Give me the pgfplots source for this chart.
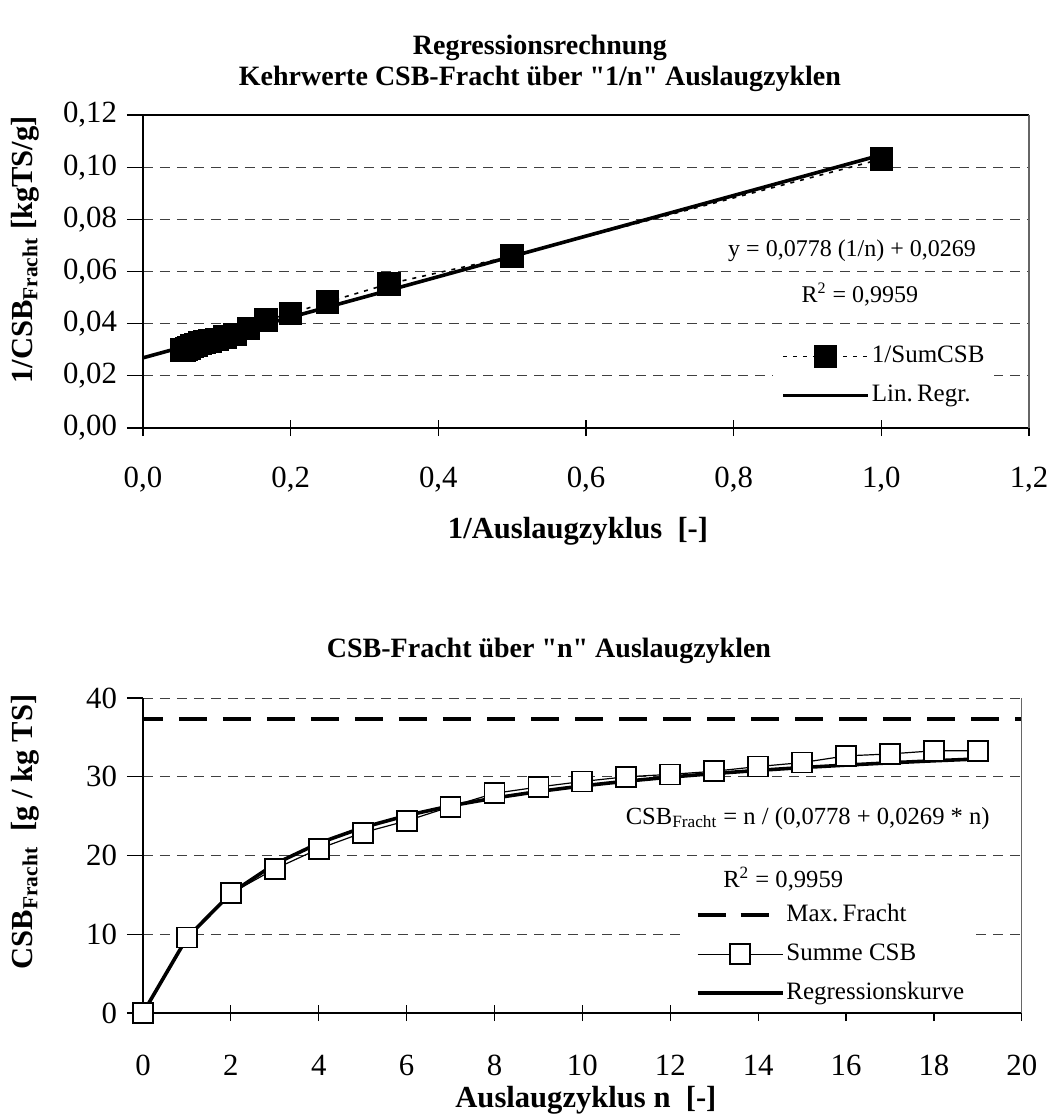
\documentclass[border=0pt]{standalone}
\usepackage{fontspec}
\setmainfont{Liberation Serif}[Ligatures=TeXOff]
\usepackage{pgfplots}
\pgfplotsset{compat=1.18}

% 1 px of the reference = 0.5pt
\pgfplotsset{
  csb/.style={
    scale only axis, clip=false,
    axis lines*=left, axis line style={black, line width=1pt, -},
    tick align=center, major tick length=8pt,
    major y tick style={xshift=-4pt},
    tick style={black, line width=0.6pt},
    ymajorgrids,
    major grid style={black!75, line width=0.5pt, dash pattern=on 5pt off 3.5pt},
    ticklabel style={font=\fontsize{15.4}{17}\selectfont,
      /pgf/number format/use comma, /pgf/number format/assume math mode=true,
      /pgf/number format/1000 sep={}},
    yticklabel style={xshift=-5.5pt},
    scaled ticks=false,
    label style={font=\bfseries\fontsize{15.3}{18}\selectfont},
    title style={font=\bfseries\fontsize{14}{15.5}\selectfont, align=center},
    legend cell align=left,
  },
  shortline/.style={legend image code/.code={\draw[##1] (0pt,0pt) -- (42.5pt,0pt);}},
  markline/.style={legend image code/.code={%
    \draw[mark repeat=2, mark phase=2, ##1] plot coordinates {(0pt,0pt) (21.25pt,0pt) (42.5pt,0pt)};}},
  dashline/.style={legend image code/.code={%
    \draw[black, line width=2.2pt, solid] (0pt,0pt) -- (14pt,0pt);
    \draw[black, line width=2.2pt, solid] (21.5pt,0pt) -- (35.5pt,0pt);
    \path[draw=none, fill=none] (0pt,0pt) -- (42.5pt,0pt);}},
}

\begin{document}
\begin{tikzpicture}
\path[use as bounding box] (-71.5pt,-343.5pt) rectangle (453.5pt,214pt);

% ---------- upper chart: reciprocal values ----------
\begin{axis}[csb,
  at={(0pt,0pt)}, anchor=south west,
  width=443pt, height=156.5pt,
  xmin=0, xmax=1.2, ymin=0, ymax=0.12,
  xtick={0,0.2,0.4,0.6,0.8,1.0,1.2},
  ytick={0,0.02,0.04,0.06,0.08,0.10,0.12},
  xticklabel style={yshift=-12pt, /pgf/number format/.cd, fixed, fixed zerofill, precision=1},
  yticklabel style={/pgf/number format/.cd, fixed, fixed zerofill, precision=2},
  title={Regressionsrechnung\\Kehrwerte CSB-Fracht über "1/n" Auslaugzyklen},
  title style={at={(0.448,1.127)}, anchor=center},
  xlabel={1/Auslaugzyklus\ \ [-]},
  xlabel style={at={(0.491,-0.329)}, anchor=center},
  ylabel={1/CSB\textsubscript{Fracht} [kgTS/g]},
  ylabel style={at={(-0.133,0.569)}, anchor=center},
  legend style={draw=none, fill=white, at={(0.711,0.291)}, anchor=north west,
    font=\fontsize{12.5}{14}\selectfont, inner xsep=4pt, inner ysep=3pt, row sep=6.5pt,
    nodes={inner sep=1pt, text height=8.5pt, text depth=2.5pt}},
  after end axis/.code={
    \draw[black, line width=0.7pt] (rel axis cs:0,1) -- (rel axis cs:1,1);
    \draw[black!60, line width=0.6pt] (rel axis cs:1,0) -- (rel axis cs:1,1);
  },
]
% linear regression
\addplot[black, line width=1.8pt, forget plot] coordinates {(0,0.0269) (1,0.1047)};
% 1/SumCSB
\addplot[black, line width=0.8pt, dash pattern=on 2pt off 3pt, mark=square*,
  mark size=5.5pt, mark options={solid, fill=black}, markline] coordinates {
  (1.0000,0.1031) (0.5000,0.0659) (0.3333,0.0553) (0.2500,0.0483)
  (0.2000,0.0439) (0.1667,0.0414) (0.1429,0.0382) (0.1250,0.0358)
  (0.1111,0.0348) (0.1000,0.0340) (0.0909,0.0333) (0.0833,0.0330)
  (0.0769,0.0326) (0.0714,0.0319) (0.0667,0.0314) (0.0625,0.0306)
  (0.0588,0.0304) (0.0556,0.0300) (0.0526,0.0300)};
\addlegendentry{1/SumCSB}
\addlegendimage{black, line width=1.8pt, shortline}
\addlegendentry{Lin.\,Regr.}
\node[anchor=base east, font=\fontsize{12}{14}\selectfont] at (axis cs:1.1377,0.0657)
  {y = 0,0778 (1/n) + 0,0269};
\node[anchor=base, font=\fontsize{12}{14}\selectfont] at (axis cs:0.971,0.0483)
  {R\textsuperscript{2} = 0,9959};
\end{axis}

% ---------- lower chart: cumulative load ----------
\begin{axis}[csb,
  at={(0pt,-292.5pt)}, anchor=south west,
  width=439.4pt, height=157.5pt,
  xmin=0, xmax=20, ymin=0, ymax=40,
  xtick={0,2,...,20}, ytick={0,10,20,30,40},
  xticklabel style={yshift=-13.5pt},
  title={CSB-Fracht über "n" Auslaugzyklen},
  title style={at={(0.462,1.111)}, anchor=center},
  xlabel={Auslaugzyklus n\ \ [-]},
  xlabel style={at={(0.504,-0.276)}, anchor=center},
  ylabel={CSB\textsubscript{Fracht}\ \ [g / kg TS]},
  ylabel style={at={(-0.134,0.575)}, anchor=center},
  legend style={draw=none, fill=white, at={(0.619,0.372)}, anchor=north west,
    font=\fontsize{12.5}{14}\selectfont, inner xsep=4pt, inner ysep=3pt, row sep=6.5pt,
    nodes={inner sep=1pt, text height=8.5pt, text depth=2.5pt}},
  after end axis/.code={
    \draw[black!60, line width=0.6pt] (rel axis cs:1,0) -- (rel axis cs:1,1);
  },
]
% max load
\addplot[black, line width=2.2pt, dash pattern=on 14pt off 8pt, dash phase=4pt,
  forget plot] coordinates {(0,37.3) (20,37.3)};
\addlegendimage{dashline}
\addlegendentry{Max.\,Fracht}
% regression curve n/(0.0778+0.0269 n)
\addplot[black, line width=1.8pt, forget plot] coordinates {
  (0,0) (1,9.55) (2,15.20) (3,18.93) (4,21.57) (5,23.55) (6,25.08) (7,26.31)
  (8,27.30) (9,28.13) (10,28.84) (11,29.44) (12,29.96) (13,30.41) (14,30.81)
  (15,31.17) (16,31.48) (17,31.77) (18,32.03) (19,32.26)};
% cumulative COD
\addplot[black, line width=0.6pt, mark=square*, mark size=5pt,
  mark options={fill=white, line width=0.9pt}, markline] coordinates {
  (0,0) (1,9.6) (2,15.2) (3,18.3) (4,20.85) (5,22.9) (6,24.4) (7,26.2)
  (8,27.9) (9,28.7) (10,29.4) (11,30.0) (12,30.3) (13,30.7) (14,31.3)
  (15,31.8) (16,32.65) (17,32.9) (18,33.3) (19,33.3)};
\addlegendentry{Summe CSB}
\addlegendimage{black, line width=1.8pt, shortline}
\addlegendentry{Regressionskurve}
\node[anchor=base east, font=\fontsize{12.3}{14}\selectfont] at (axis cs:19.43,24.0)
  {CSB\textsubscript{Fracht} = n / (0,0778 + 0,0269 * n)};
\node[anchor=base, font=\fontsize{12.3}{14}\selectfont] at (axis cs:14.57,16.0)
  {R\textsuperscript{2} = 0,9959};
\end{axis}
\end{tikzpicture}
\end{document}
